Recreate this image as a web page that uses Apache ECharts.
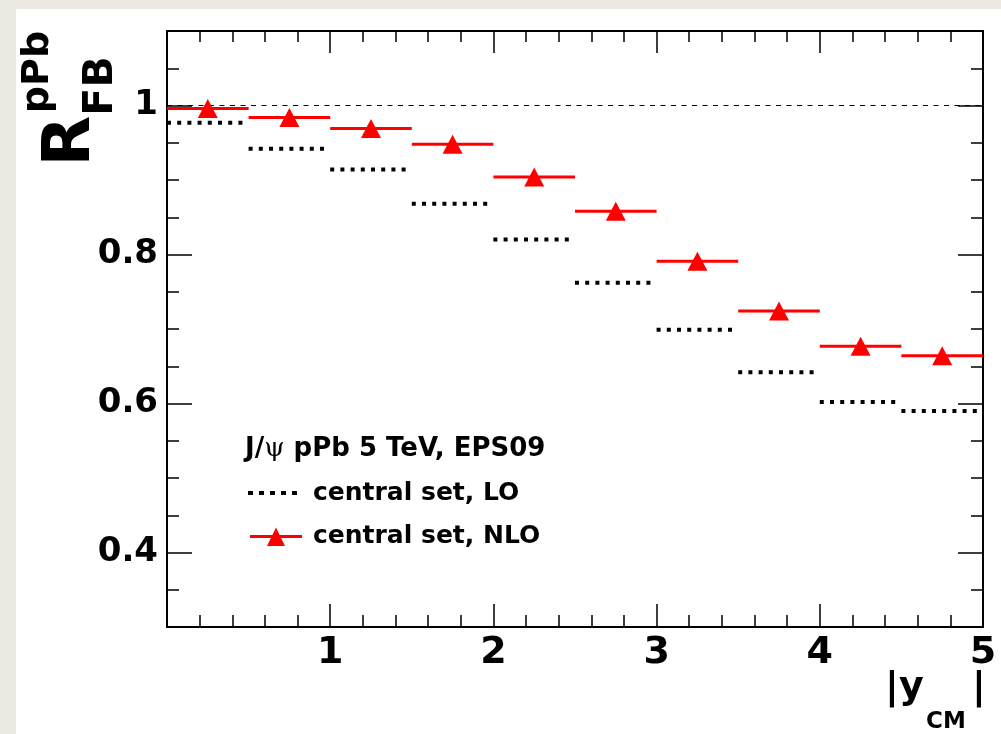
<!DOCTYPE html>
<html><head><meta charset="utf-8">
<script src="https://cdn.jsdelivr.net/npm/echarts@6/dist/echarts.min.js"></script>
<style>
html,body{margin:0;padding:0;background:#ece9e2;width:1001px;height:734px;overflow:hidden;}
#panel{position:absolute;left:16px;top:9px;width:985px;height:725px;background:#fff;}
#chart{position:absolute;left:0;top:0;width:1001px;height:734px;}
</style>
</head><body><div id="panel"></div><div id="chart"></div>
<script>
// ---- data ----
const binLow  = [0, 0.5, 1, 1.5, 2, 2.5, 3, 3.5, 4, 4.5];
const binHigh = [0.5, 1, 1.5, 2, 2.5, 3, 3.5, 4, 4.5, 5];
const loValues  = [0.977, 0.942, 0.914, 0.868, 0.820, 0.762, 0.699, 0.642, 0.602, 0.590];
const nloValues = [0.996, 0.984, 0.969, 0.948, 0.904, 0.858, 0.791, 0.724, 0.677, 0.664];
const xTickValues = [1, 2, 3, 4, 5];
const yTickValues = [0.4, 0.6, 0.8, 1.0];
const referenceValue = 1.0;
const xRange = [0, 5];
const yRange = [0.3, 1.1];
const legendTitle = ['J/', 'ψ', ' pPb 5 TeV, EPS09'];
const legendLO = 'central set, LO';
const legendNLO = 'central set, NLO';

// ---- build ----
const FONT = 'DejaVu Sans';
const loData = binLow.map((l, i) => [l, binHigh[i], loValues[i]]);
const nloData = binLow.map((l, i) => [l, binHigh[i], nloValues[i]]);
const nloPoints = binLow.map((l, i) => [(l + binHigh[i]) / 2, nloValues[i]]);

function seg(color, width, dash) {
  return function (params, api) {
    const y = api.value(2);
    const p0 = api.coord([api.value(0), y]);
    const p1 = api.coord([api.value(1), y]);
    return {
      type: 'line',
      shape: { x1: p0[0], y1: p0[1], x2: p1[0], y2: p1[1] },
      style: { stroke: color, lineWidth: width, lineDash: dash, lineCap: 'butt' }
    };
  };
}
const axLine = { show: true, onZero: false, lineStyle: { color: '#000', width: 2 } };
const noLine = { show: false, onZero: false };
const tickStyle = { color: '#000', width: 1.5 };
const noSplit = { show: false };

const chart = echarts.init(document.getElementById('chart'), null, { renderer: 'canvas' });
chart.setOption({
  animation: false,
  grid: { left: 167, top: 31, right: 18, bottom: 107, containLabel: false },
  xAxis: [
    {
      type: 'value', position: 'bottom', min: xRange[0], max: xRange[1], interval: 1,
      axisLine: axLine,
      axisTick: { show: true, inside: true, length: 23, lineStyle: tickStyle },
      minorTick: { show: true, splitNumber: 5, length: 12, lineStyle: tickStyle },
      splitLine: noSplit, minorSplitLine: noSplit,
      axisLabel: {
        show: true, margin: 7, color: '#000', fontFamily: FONT, fontWeight: 'bold', fontSize: 38,
        formatter: v => (xTickValues.indexOf(v) >= 0 ? String(v) : ''), showMaxLabel: true
      }
    },
    {
      type: 'value', position: 'top', min: xRange[0], max: xRange[1], interval: 1,
      axisLine: axLine,
      axisTick: { show: true, inside: true, length: 22, lineStyle: tickStyle },
      minorTick: { show: true, splitNumber: 5, length: 11, lineStyle: tickStyle },
      splitLine: noSplit, minorSplitLine: noSplit,
      axisLabel: { show: false }
    }
  ],
  yAxis: [
    {
      type: 'value', position: 'left', offset: 0, min: yRange[0], max: yRange[1],
      axisLine: axLine,
      axisTick: { show: true, inside: true, length: 25, lineStyle: tickStyle, customValues: yTickValues },
      splitLine: noSplit,
      axisLabel: {
        show: true, customValues: yTickValues, margin: 9, color: '#000', fontFamily: FONT,
        fontWeight: 'bold', fontSize: 34,
        formatter: v => (Math.abs(v - 1) < 1e-9 ? '1' : v.toFixed(1))
      }
    },
    {
      type: 'value', position: 'left', offset: 0, min: yRange[0], max: yRange[1], interval: 0.05,
      axisLine: noLine,
      axisTick: { show: true, inside: true, length: 12, lineStyle: tickStyle },
      splitLine: noSplit, axisLabel: { show: false }
    },
    {
      type: 'value', position: 'right', offset: 0, min: yRange[0], max: yRange[1],
      axisLine: axLine,
      axisTick: { show: true, inside: true, length: 25, lineStyle: tickStyle, customValues: yTickValues },
      splitLine: noSplit, axisLabel: { show: false }
    },
    {
      type: 'value', position: 'right', offset: 0, min: yRange[0], max: yRange[1], interval: 0.05,
      axisLine: noLine,
      axisTick: { show: true, inside: true, length: 12, lineStyle: tickStyle },
      splitLine: noSplit, axisLabel: { show: false }
    }
  ],
  series: [
    {
      type: 'line', z: 1, silent: true, symbol: 'none',
      data: [[xRange[0], referenceValue], [xRange[1], referenceValue]],
      lineStyle: { color: '#000', width: 1, type: [5, 5.5] }
    },
    {
      type: 'custom', name: legendLO, z: 2, data: loData, encode: { x: [0, 1], y: 2 },
      renderItem: seg('#000', 4, [4, 6.2])
    },
    {
      type: 'custom', name: legendNLO, z: 3, data: nloData, encode: { x: [0, 1], y: 2 },
      renderItem: seg('#ff0000', 3, null)
    },
    {
      type: 'scatter', z: 4, data: nloPoints, symbol: 'triangle', symbolSize: [20, 19],
      itemStyle: { color: '#ff0000', opacity: 1 }
    }
  ],
  graphic: [
    // y-axis title  R^{pPb}_{FB}
    { type: 'text', x: 72, y: 141, rotation: Math.PI / 2,
      style: { text: 'R', font: 'bold 66px "DejaVu Sans"', fill: '#000', align: 'center', verticalAlign: 'middle' } },
    { type: 'text', x: 38, y: 72, rotation: Math.PI / 2,
      style: { text: 'pPb', font: 'bold 38px "DejaVu Sans"', fill: '#000', align: 'center', verticalAlign: 'middle' } },
    { type: 'text', x: 101, y: 86, rotation: Math.PI / 2,
      style: { text: 'FB', font: 'bold 41px "DejaVu Sans"', fill: '#000', align: 'center', verticalAlign: 'middle' } },
    // x-axis title |y_CM|
    { type: 'text', x: 885, y: 688,
      style: { text: '|y', font: 'bold 38px "DejaVu Sans"', fill: '#000', align: 'left', verticalAlign: 'middle' } },
    { type: 'text', x: 926, y: 722,
      style: { text: 'CM', font: 'bold 23px "DejaVu Sans"', fill: '#000', align: 'left', verticalAlign: 'middle' } },
    { type: 'text', x: 972, y: 688,
      style: { text: '|', font: 'bold 38px "DejaVu Sans"', fill: '#000', align: 'left', verticalAlign: 'middle' } },
    // legend
    { type: 'text', x: 245, y: 449,
      style: {
        text: '{t|' + legendTitle[0] + '}{p|' + legendTitle[1] + '}{t|' + legendTitle[2] + '}',
        rich: {
          t: { font: 'bold 26px "DejaVu Sans"', fill: '#000' },
          p: { font: 'normal 26px "DejaVu Serif"', fill: '#000' }
        },
        align: 'left', verticalAlign: 'middle'
      } },
    { type: 'line', shape: { x1: 248, y1: 493, x2: 298, y2: 493 },
      style: { stroke: '#000', lineWidth: 4, lineDash: [5, 6] } },
    { type: 'text', x: 313, y: 493,
      style: { text: legendLO, font: 'bold 25px "DejaVu Sans"', fill: '#000', align: 'left', verticalAlign: 'middle' } },
    { type: 'line', shape: { x1: 250, y1: 536.5, x2: 302, y2: 536.5 },
      style: { stroke: '#ff0000', lineWidth: 3 } },
    { type: 'polygon', shape: { points: [[276, 527.5], [285, 546], [267, 546]] },
      style: { fill: '#ff0000' } },
    { type: 'text', x: 313, y: 536.5,
      style: { text: legendNLO, font: 'bold 25px "DejaVu Sans"', fill: '#000', align: 'left', verticalAlign: 'middle' } }
  ]
});
</script></body></html>
